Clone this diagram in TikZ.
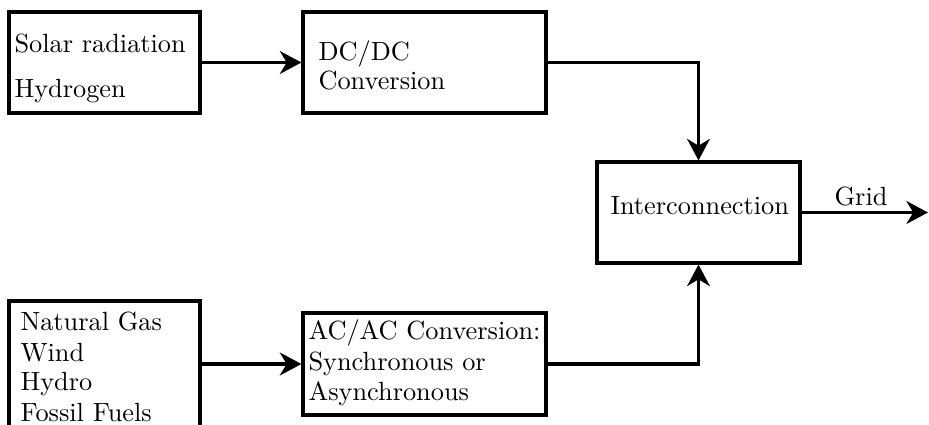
\documentclass[tikz,border=0pt]{standalone}
\usetikzlibrary{arrows.meta}
\begin{document}
\begin{tikzpicture}[x=0.38pt, y=-0.38pt,
  box/.style={draw, line width=1.2pt, rectangle, inner sep=0pt},
  txt/.style={anchor=base west, inner sep=0pt},
  arr/.style={line width=1.2pt, -{Stealth[length=8.2pt,width=8.7pt,inset=2.6pt]}}]
\useasboundingbox (0,0) rectangle (929,425);
\clip (0,0) rectangle (929,425);

% blocks
\node[box, minimum width=72.58pt, minimum height=38.38pt] (sol) at (104.5,62.5) {};
\node[box, minimum width=92.34pt, minimum height=38.38pt] (dc)  at (424.5,62.5) {};
\node[box, minimum width=77.14pt, minimum height=38.38pt] (ic)  at (698.5,212.5) {};
\node[box, minimum width=72.58pt, minimum height=52.82pt] (ll)  at (104.5,370.5) {};
\node[box, minimum width=92.34pt, minimum height=38.76pt] (ac)  at (424.5,364) {};

% block texts
\node[txt] (t1) at (14,52) {Solar radiation};
\node[txt] (t2) at (14,97) {Hydrogen};
\node[txt] (t3) at (318,60) {DC/DC};
\node[txt] (t4) at (318,89) {Conversion};
\node[txt] (t5) at (610,214) {Interconnection};
\node[txt] (t6) at (20,330) {Natural Gas};
\node[txt] (t7) at (20,361) {Wind};
\node[txt] (t8) at (20,390) {Hydro};
\node[txt] (t9) at (20,421.5) {Fossil Fuels};
\node[txt] (t10) at (308,339) {AC/AC Conversion:};
\node[txt] (t11) at (308,370.5) {Synchronous or};
\node[txt] (t12) at (308,400.5) {Asynchronous};

% connectors
\draw[arr] (sol.east) -- (dc.west);
\draw[arr] (dc.east) -| (ic.north);
\draw[arr] (ll.east |- ac.west) -- (ac.west);
\draw[arr] (ac.east) -| (ic.south);
\coordinate (gridend) at (928,212.5);
\draw[arr] (ic.east) -- (gridend) node[pos=0.47, above=2pt, inner sep=0pt] (gridlbl) {Grid};
\end{tikzpicture}
\end{document}
